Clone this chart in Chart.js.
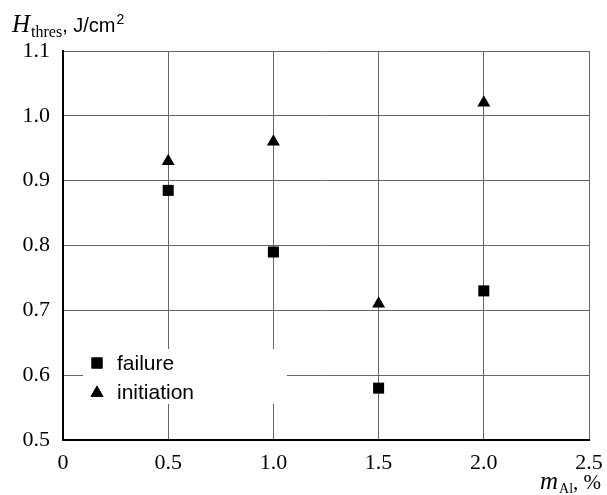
<!DOCTYPE html>
<html>
<head>
<meta charset="utf-8">
<script src="https://cdn.jsdelivr.net/npm/chart.js@4"></script>
<style>
  html, body { margin: 0; padding: 0; background: #fff; }
  #wrap { width: 607px; height: 495px; position: relative; }
</style>
</head>
<body>
<div id="wrap"><canvas id="chart"></canvas></div>
<script>
// Data
const aluminium = [0.5, 1.0, 1.5, 2.0];
const failure = [0.885, 0.79, 0.58, 0.73];
const initiation = [0.93, 0.96, 0.71, 1.02];
const xTicks = [0, 0.5, 1.0, 1.5, 2.0, 2.5];
const yTicks = [0.5, 0.6, 0.7, 0.8, 0.9, 1.0, 1.1];

const toPoints = (ys) => aluminium.map((x, i) => ({ x: x, y: ys[i] }));

// Legend box and axis titles drawn by hand (rich text with sub/superscripts)
const extras = {
  id: "extras",
  afterDatasetsDraw(chart) {
    const ctx = chart.ctx;
    ctx.save();
    // legend box
    ctx.fillStyle = "#fff";
    ctx.fillRect(83, 349, 204, 55);
    const sets = chart.data.datasets;
    sets.forEach((ds, i) => {
      const cy = 363 + i * 29;
      ctx.fillStyle = "#000";
      Chart.helpers.drawPoint(ctx, {
        pointStyle: ds.pointStyle,
        radius: ds.pointRadius,
        borderWidth: 0,
      }, 97, ds.pointStyle === "triangle" ? cy + 1 : cy);
      ctx.fill();
      ctx.font = "21px 'Liberation Sans', Arial, sans-serif";
      ctx.textBaseline = "alphabetic";
      ctx.textAlign = "left";
      ctx.fillText(ds.label, 117, cy + 7);
    });

    // y title: H_thres, J/cm^2
    ctx.fillStyle = "#000";
    let x = 12;
    ctx.font = "italic 25px 'Liberation Serif', serif";
    ctx.fillText("H", x, 32);
    x += ctx.measureText("H").width + 1;
    ctx.font = "16px 'Liberation Serif', serif";
    ctx.fillText("thres", x, 37);
    x += ctx.measureText("thres").width;
    ctx.font = "20px 'Liberation Sans', Arial, sans-serif";
    ctx.fillText(", J/cm", x, 32);
    x += ctx.measureText(", J/cm").width + 1;
    ctx.font = "14px 'Liberation Sans', Arial, sans-serif";
    ctx.fillText("2", x, 24);

    // x title: m_Al, %
    x = 540;
    ctx.font = "italic 25px 'Liberation Serif', serif";
    ctx.fillText("m", x, 489);
    x += ctx.measureText("m").width + 1;
    ctx.font = "14px 'Liberation Serif', serif";
    ctx.fillText("Al", x, 493);
    x += ctx.measureText("Al").width;
    ctx.font = "21px 'Liberation Serif', serif";
    ctx.fillText(", %", x, 489);
    ctx.restore();
  },
};

new Chart(document.getElementById("chart"), {
  type: "scatter",
  data: {
    datasets: [
      {
        label: "failure",
        data: toPoints(failure),
        pointStyle: "rect",
        pointRadius: 7.8,
        pointHoverRadius: 7.8,
        backgroundColor: "#000",
        borderWidth: 0,
      },
      {
        label: "initiation",
        data: toPoints(initiation),
        pointStyle: "triangle",
        pointRadius: 7.5,
        pointHoverRadius: 7.5,
        backgroundColor: "#000",
        borderWidth: 0,
      },
    ],
  },
  options: {
    responsive: true,
    maintainAspectRatio: false,
    animation: false,
    layout: {
      padding: { top: 51, right: 18, left: 0, bottom: 0 },
    },
    plugins: {
      legend: { display: false },
      tooltip: { enabled: false },
    },
    scales: {
      x: {
        type: "linear",
        min: 0,
        max: 2.5,
        afterBuildTicks: (axis) => {
          axis.ticks = xTicks.map((v) => ({ value: v }));
        },
        afterFit: (axis) => {
          axis.height = 55;
          axis.paddingLeft = 0;
          axis.paddingRight = 0;
        },
        grid: {
          color: "#666",
          lineWidth: 1,
          drawTicks: false,
        },
        border: { color: "#000", width: 2 },
        ticks: {
          color: "#000",
          padding: 10,
          maxRotation: 0,
          font: { family: "'Liberation Serif', serif", size: 22 },
          callback: (v) => (v === 0 ? "0" : Number(v).toFixed(1)),
        },
      },
      y: {
        type: "linear",
        min: 0.5,
        max: 1.1,
        afterBuildTicks: (axis) => {
          axis.ticks = yTicks.map((v) => ({ value: v }));
        },
        afterFit: (axis) => {
          axis.width = 63;
          axis.paddingTop = 0;
          axis.paddingBottom = 0;
        },
        grid: {
          color: "#666",
          lineWidth: 1,
          drawTicks: false,
        },
        border: { color: "#000", width: 2 },
        ticks: {
          color: "#000",
          padding: 13,
          font: { family: "'Liberation Serif', serif", size: 22 },
          callback: (v) => Number(v).toFixed(1),
        },
      },
    },
  },
  plugins: [extras],
});
</script>
</body>
</html>
